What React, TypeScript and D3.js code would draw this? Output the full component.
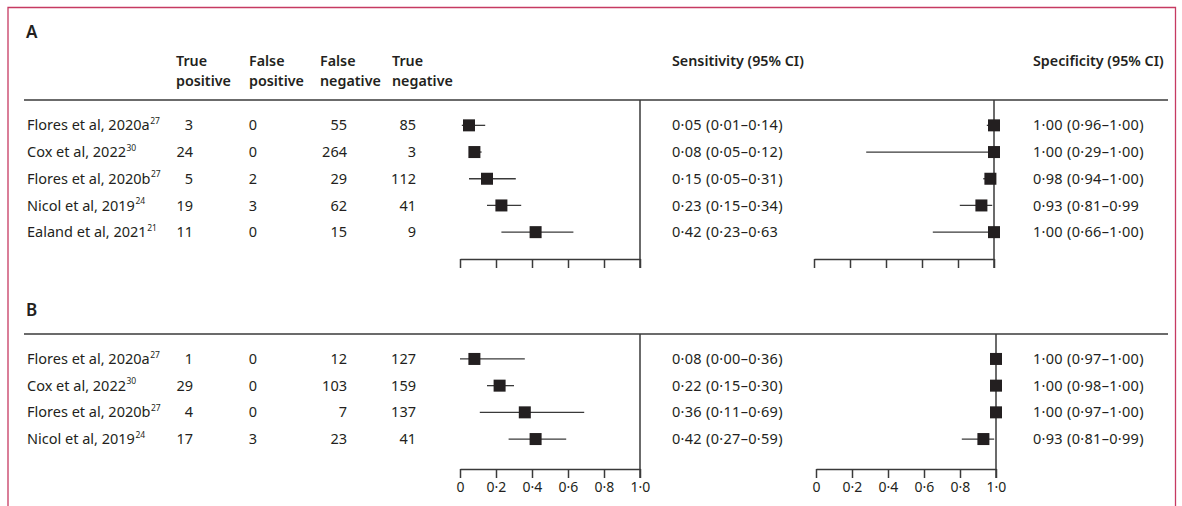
import { useEffect, useRef } from 'react';
import * as d3 from 'd3';

// panel A: Xpert-type test vs culture
const studiesA = ['Flores et al, 2020a', 'Cox et al, 2022', 'Flores et al, 2020b', 'Nicol et al, 2019', 'Ealand et al, 2021'];
const refsA = ['27', '30', '27', '24', '21'];
const tpA = [3, 24, 5, 19, 11];
const fpA = [0, 0, 2, 3, 0];
const fnA = [55, 264, 29, 62, 15];
const tnA = [85, 3, 112, 41, 9];
const sensA = [0.05, 0.08, 0.15, 0.23, 0.42];
const sensLoA = [0.01, 0.05, 0.05, 0.15, 0.23];
const sensHiA = [0.14, 0.12, 0.31, 0.34, 0.63];
const sensTextA = ['0·05 (0·01–0·14)', '0·08 (0·05–0·12)', '0·15 (0·05–0·31)', '0·23 (0·15–0·34)', '0·42 (0·23–0·63'];
const specA = [1.0, 1.0, 0.98, 0.93, 1.0];
const specLoA = [0.96, 0.29, 0.94, 0.81, 0.66];
const specHiA = [1.0, 1.0, 1.0, 0.99, 1.0];
const specTextA = ['1·00 (0·96–1·00)', '1·00 (0·29–1·00)', '0·98 (0·94–1·00)', '0·93 (0·81–0·99', '1·00 (0·66–1·00)'];

// panel B
const studiesB = ['Flores et al, 2020a', 'Cox et al, 2022', 'Flores et al, 2020b', 'Nicol et al, 2019'];
const refsB = ['27', '30', '27', '24'];
const tpB = [1, 29, 4, 17];
const fpB = [0, 0, 0, 3];
const fnB = [12, 103, 7, 23];
const tnB = [127, 159, 137, 41];
const sensB = [0.08, 0.22, 0.36, 0.42];
const sensLoB = [0.0, 0.15, 0.11, 0.27];
const sensHiB = [0.36, 0.3, 0.69, 0.59];
const sensTextB = ['0·08 (0·00–0·36)', '0·22 (0·15–0·30)', '0·36 (0·11–0·69)', '0·42 (0·27–0·59)'];
const specB = [1.0, 1.0, 1.0, 0.93];
const specLoB = [0.97, 0.98, 0.97, 0.81];
const specHiB = [1.0, 1.0, 1.0, 0.99];
const specTextB = ['1·00 (0·97–1·00)', '1·00 (0·98–1·00)', '1·00 (0·97–1·00)', '0·93 (0·81–0·99)'];

const tickVals = [0, 0.2, 0.4, 0.6, 0.8, 1.0];
const colHeads = [['True', 'positive'], ['False', 'positive'], ['False', 'negative'], ['True', 'negative']];

const INK = '#231f20';
const LINE = '#3a3a3a';
const FONT = '"Noto Sans", "Open Sans", sans-serif';
const BODY = 14.5;
const HEAD = 14.3;

const fmtTick = (d: number) => (d === 0 ? '0' : d3.format('.1f')(d).replace('.', '·'));

export default function App() {
  const svgRef = useRef<SVGSVGElement>(null);

  useEffect(() => {
    if (!svgRef.current) return;
    const width = 1182;
    const height = 506;
    d3.select(svgRef.current).selectAll('*').remove();
    const svg = d3.select(svgRef.current)
      .attr('width', width).attr('height', height)
      .style('font-family', FONT);

    // frame (open at the bottom)
    svg.append('path')
      .attr('d', `M8,${height} L8,7.5 L1175.5,7.5 L1175.5,${height}`)
      .attr('fill', 'none').attr('stroke', '#c63a62').attr('stroke-width', 1.3);

    const colRight = [193, 257, 347, 416];
    const colLeft = [176, 249, 320, 392];

    const drawPanel = (opts: {
      letter: string; letterY: number; ruleY: number; rowRange: [number, number];
      axisY: number; showHeads: boolean; showTickLabels: boolean;
      studies: string[]; refs: string[]; cells: number[][];
      sens: number[]; sensLo: number[]; sensHi: number[]; sensText: string[];
      spec: number[]; specLo: number[]; specHi: number[]; specText: string[];
      specRange: [number, number];
    }) => {
      const g = svg.append('g');
      g.append('text').text(opts.letter)
        .attr('x', 26).attr('y', opts.letterY).attr('dy', '0.35em')
        .attr('font-size', 17).attr('font-weight', 600).attr('fill', INK);

      if (opts.showHeads) {
        colHeads.forEach((h, i) => {
          h.forEach((line, j) => {
            g.append('text').text(line)
              .attr('x', colLeft[i]).attr('y', 61 + j * 20).attr('dy', '0.35em')
              .attr('font-size', HEAD).attr('font-weight', 600).attr('fill', INK);
          });
        });
        g.append('text').text('Sensitivity (95% CI)')
          .attr('x', 672).attr('y', 61).attr('dy', '0.35em')
          .attr('font-size', HEAD).attr('font-weight', 600).attr('fill', INK);
        g.append('text').text('Specificity (95% CI)')
          .attr('x', 1033).attr('y', 61).attr('dy', '0.35em')
          .attr('font-size', HEAD).attr('font-weight', 600).attr('fill', INK);
      }

      g.append('line')
        .attr('x1', 24).attr('x2', 1168).attr('y1', opts.ruleY).attr('y2', opts.ruleY)
        .attr('stroke', LINE).attr('stroke-width', 1.5);

      const y = d3.scaleBand<string>().domain(opts.studies).range(opts.rowRange);
      const cy = (s: string) => (y(s) as number) + y.bandwidth() / 2;

      const sx = d3.scaleLinear().domain([0, 1]).range([460, 640]);
      const px = d3.scaleLinear().domain([0, 1]).range(opts.specRange);

      opts.studies.forEach((s, i) => {
        const t = g.append('text')
          .attr('x', 27).attr('y', cy(s)).attr('dy', '0.35em')
          .attr('font-size', BODY).attr('fill', INK);
        t.append('tspan').text(s);
        t.append('tspan').text(opts.refs[i])
          .attr('font-size', 8.5).attr('dy', '-0.75em').attr('dx', 0.5);

        opts.cells.forEach((col, c) => {
          g.append('text').text(String(col[i]))
            .attr('x', colRight[c]).attr('y', cy(s)).attr('dy', '0.35em')
            .attr('text-anchor', 'end').attr('font-size', BODY).attr('fill', INK);
        });

        g.append('text').text(opts.sensText[i])
          .attr('x', 672).attr('y', cy(s)).attr('dy', '0.35em')
          .attr('letter-spacing', 0.3)
          .attr('font-size', BODY).attr('fill', INK);
        g.append('text').text(opts.specText[i])
          .attr('x', 1033).attr('y', cy(s)).attr('dy', '0.35em')
          .attr('letter-spacing', 0.3)
          .attr('font-size', BODY).attr('fill', INK);
      });

      // vertical reference lines
      g.append('line')
        .attr('x1', sx(1)).attr('x2', sx(1)).attr('y1', opts.ruleY).attr('y2', opts.axisY + 9)
        .attr('stroke', LINE).attr('stroke-width', 1.5);
      g.append('line')
        .attr('x1', px(1)).attr('x2', px(1)).attr('y1', opts.ruleY).attr('y2', opts.axisY + 9)
        .attr('stroke', LINE).attr('stroke-width', 1.5);

      // CI whiskers + squares
      const drawForest = (x: d3.ScaleLinear<number, number>, est: number[], lo: number[], hi: number[]) => {
        g.selectAll(null).data(opts.studies).join('line')
          .attr('x1', (_, i) => x(lo[i])).attr('x2', (_, i) => x(hi[i]))
          .attr('y1', d => cy(d)).attr('y2', d => cy(d))
          .attr('stroke', LINE).attr('stroke-width', 1.3);
        g.selectAll(null).data(opts.studies).join('rect')
          .attr('x', (_, i) => x(est[i]) - 6).attr('y', d => cy(d) - 6)
          .attr('width', 12).attr('height', 12)
          .attr('fill', INK);
      };
      drawForest(sx, opts.sens, opts.sensLo, opts.sensHi);
      drawForest(px, opts.spec, opts.specLo, opts.specHi);

      [sx, px].forEach(x => {
        const ax = g.append('g')
          .attr('transform', `translate(0,${opts.axisY})`)
          .call(d3.axisBottom(x).tickValues(tickVals).tickSize(9).tickSizeOuter(0).tickPadding(4)
            .tickFormat(d => (opts.showTickLabels ? fmtTick(+d) : '')));
        ax.select('.domain').attr('stroke', LINE).attr('stroke-width', 1.5);
        ax.selectAll('.tick line').attr('stroke', LINE).attr('stroke-width', 1.5);
        ax.selectAll('.tick text')
          .attr('fill', INK).style('font-size', '14px').style('font-family', FONT);
      });
    };

    drawPanel({
      letter: 'A', letterY: 32, ruleY: 100, rowRange: [112, 245.5], axisY: 259,
      showHeads: true, showTickLabels: false,
      studies: studiesA, refs: refsA, cells: [tpA, fpA, fnA, tnA],
      sens: sensA, sensLo: sensLoA, sensHi: sensHiA, sensText: sensTextA,
      spec: specA, specLo: specLoA, specHi: specHiA, specText: specTextA,
      specRange: [814, 994],
    });
    drawPanel({
      letter: 'B', letterY: 310, ruleY: 334, rowRange: [345.6, 452.4], axisY: 469,
      showHeads: false, showTickLabels: true,
      studies: studiesB, refs: refsB, cells: [tpB, fpB, fnB, tnB],
      sens: sensB, sensLo: sensLoB, sensHi: sensHiB, sensText: sensTextB,
      spec: specB, specLo: specLoB, specHi: specHiB, specText: specTextB,
      specRange: [816, 996],
    });
  }, []);

  return (
    <div style={{ position: 'absolute', left: 0, top: 0, background: '#fff' }}>
      <svg ref={svgRef} style={{ display: 'block' }} />
    </div>
  );
}
